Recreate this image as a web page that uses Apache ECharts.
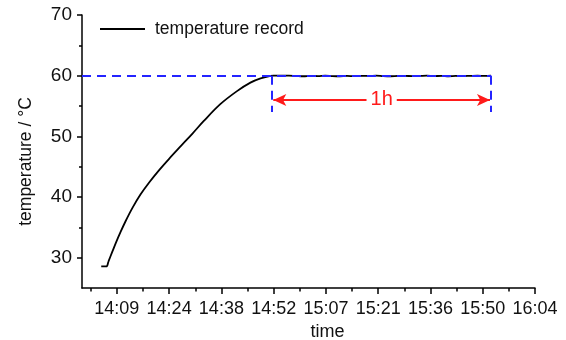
<!DOCTYPE html>
<html><head><meta charset="utf-8">
<script src="https://cdn.jsdelivr.net/npm/echarts@6/dist/echarts.min.js"></script>
<style>html,body{margin:0;padding:0;background:#fff}#c{width:566px;height:340px}</style>
</head><body><div id="c"></div>
<script>
// time in minutes since midnight, temperature in °C
var times = [845.3, 846.7, 847.3, 848.3, 849.3, 850.6, 852.0, 853.9, 856.1, 858.5, 861.2, 864.0, 867.4, 870.5, 873.5, 878.1, 882.7, 886.4, 889.2, 891.9, 892.8,
  895, 897, 899, 901, 903, 905, 907, 909, 911, 913, 915, 917, 919, 921, 923, 925, 927, 929, 931, 933, 935, 937, 939, 941, 943, 945, 947, 949, 951, 952.7];
var temps = [28.55, 28.55, 29.4, 30.9, 32.4, 34.2, 36.0, 38.2, 40.4, 42.4, 44.4, 46.3, 48.5, 50.5, 52.5, 55.3, 57.45, 58.85, 59.55, 59.95, 60.0,
  60.0, 60.02, 59.95, 59.9, 59.97, 59.92, 60.0, 59.93, 59.9, 59.95, 59.92, 59.97, 59.95, 60.0, 59.93, 59.9, 59.95, 59.97, 59.92, 59.95, 60.0, 59.92, 59.97, 59.9, 59.95, 59.93, 59.97, 60.0, 59.95, 60.0];
var xTickValues = [849.6, 864, 878.4, 892.8, 907.2, 921.6, 936, 950.4, 964.8];
var xTickLabels = ['14:09', '14:24', '14:38', '14:52', '15:07', '15:21', '15:36', '15:50', '16:04'];
var xMinorTicks = [842.4, 856.8, 871.2, 885.6, 900, 914.4, 928.8, 943.2, 957.6];
var yTickValues = [30, 40, 50, 60, 70];
var yMinorTicks = [35, 45, 55, 65];
var xRange = [840, 964.8];
var yRange = [25, 70];
// annotation values
var refLevel = 60;
var holdStart = 892.4;
var holdEnd = 952.7;
var arrowLevel = 56;
var markerBottom = 54;
var holdLabel = '1h';

var FONT = '"Liberation Sans", Arial, sans-serif';
var chart = echarts.init(document.getElementById('c'), null, {renderer: 'canvas'});
var axisLineStyle = {color: '#000', width: 1.5};
chart.setOption({
  animation: false,
  backgroundColor: '#fff',
  grid: {left: 82, right: 31, top: 15, bottom: 52, containLabel: false, outerBoundsMode: 'none'},
  legend: {
    left: 95, top: 15, itemWidth: 45, itemHeight: 14, itemGap: 5,
    textStyle: {fontFamily: FONT, fontSize: 17.5, color: '#111', padding: [0, 0, 0, 5]},
    data: [{name: 'temperature record', icon: 'path://M0,0L50,0L50,2L0,2Z'}]
  },
  xAxis: [{
    type: 'value', min: xRange[0], max: xRange[1], position: 'bottom',
    name: 'time', nameLocation: 'middle', nameGap: 27,
    nameTextStyle: {fontFamily: FONT, fontSize: 18, color: '#111', padding: [0, 0, 0, 38]},
    axisLine: {show: true, onZero: false, lineStyle: axisLineStyle},
    axisTick: {show: true, length: 6, lineStyle: axisLineStyle, customValues: xTickValues},
    axisLabel: {show: true, margin: 12, hideOverlap: false, fontFamily: FONT, fontSize: 18, color: '#111', customValues: xTickValues,
      formatter: function (v) { for (var i = 0; i < xTickValues.length; i++) { if (Math.abs(v - xTickValues[i]) < 0.01) return xTickLabels[i]; } return ''; }},
    splitLine: {show: false}
  }, {
    type: 'value', min: xRange[0], max: xRange[1], position: 'bottom', gridIndex: 0,
    axisLine: {show: false},
    axisTick: {show: true, length: 3.5, lineStyle: axisLineStyle, customValues: xMinorTicks},
    axisLabel: {show: false},
    splitLine: {show: false}
  }],
  yAxis: [{
    type: 'value', min: yRange[0], max: yRange[1], position: 'left',
    name: 'temperature / °C', nameLocation: 'middle', nameGap: 47, nameRotate: 90,
    nameTextStyle: {fontFamily: FONT, fontSize: 17.5, color: '#111', padding: [0, 20, 0, 0]},
    axisLine: {show: true, onZero: false, lineStyle: axisLineStyle},
    axisTick: {show: true, length: 5, lineStyle: axisLineStyle, customValues: yTickValues},
    axisLabel: {show: true, margin: 10, hideOverlap: false, fontFamily: FONT, fontSize: 19, color: '#111', customValues: yTickValues},
    splitLine: {show: false}
  }, {
    type: 'value', min: yRange[0], max: yRange[1], position: 'left',
    axisLine: {show: false},
    axisTick: {show: true, length: 3, lineStyle: axisLineStyle, customValues: yMinorTicks},
    axisLabel: {show: false},
    splitLine: {show: false}
  }],
  series: [{
    name: 'annotations', type: 'line', data: [], z: 1, silent: true,
    markLine: {
      silent: true, symbol: ['none', 'none'], animation: false,
      label: {show: false},
      lineStyle: {color: '#2424ff', width: 2, type: [9, 6]},
      emphasis: {disabled: true},
      data: [
        [{coord: [xRange[0], refLevel]}, {coord: [holdEnd, refLevel]}],
        [{coord: [holdStart, refLevel]}, {coord: [holdStart, markerBottom]}],
        [{coord: [holdEnd, refLevel]}, {coord: [holdEnd, markerBottom]}],
        [{coord: [holdStart + 0.3, arrowLevel], symbol: 'arrow', symbolSize: [9, 13],
          lineStyle: {color: '#ff1a1a', width: 2, type: 'solid'},
          label: {show: true, position: 'insideMiddle', distance: 0, formatter: holdLabel,
            fontFamily: FONT, fontSize: 20, color: '#ff1a1a', backgroundColor: '#fff', padding: [0, 4]}},
         {coord: [holdEnd - 0.3, arrowLevel], symbol: 'arrow', symbolSize: [9, 13]}]
      ]
    }
  }, {
    name: 'temperature record', type: 'line', z: 3, symbol: 'none', showSymbol: false, smooth: 0.35,
    lineStyle: {color: '#000', width: 1.8}, itemStyle: {color: '#000'},
    data: times.map(function (t, i) { return [t, temps[i]]; })
  }]
});
</script></body></html>
